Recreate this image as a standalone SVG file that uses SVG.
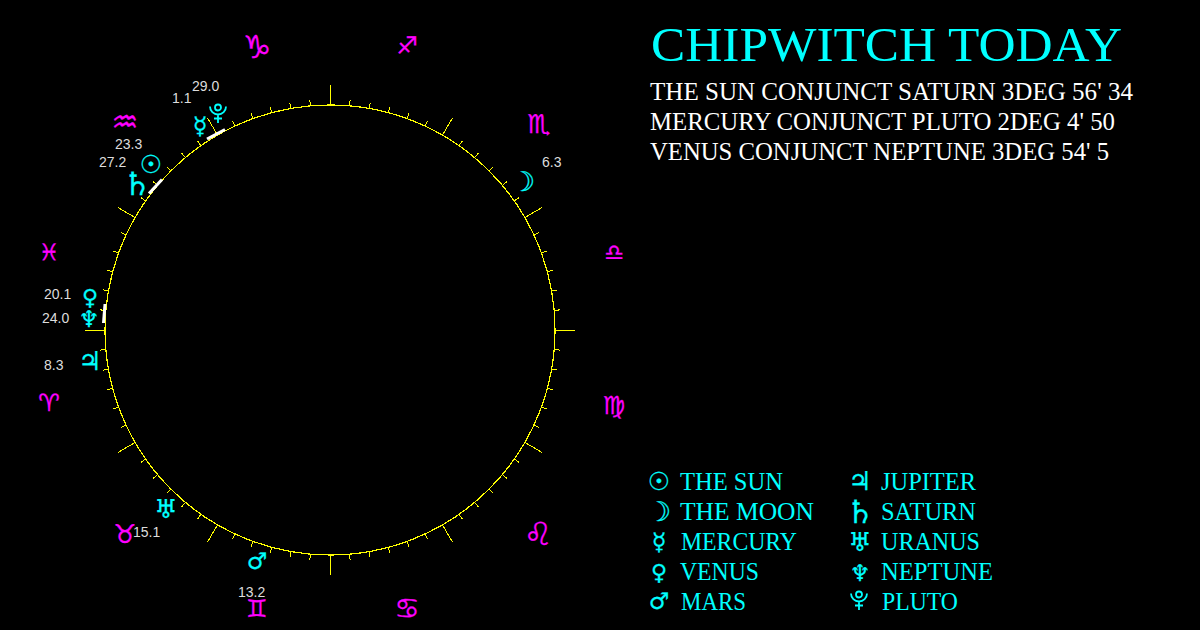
<svg xmlns="http://www.w3.org/2000/svg" xmlns:xlink="http://www.w3.org/1999/xlink" width="1200" height="630" viewBox="0 0 1200 630">
<style>
.bg{fill:#000}
.ring{fill:none;stroke:#ff0;stroke-width:1.2;shape-rendering:crispEdges}
.tick{fill:none;stroke:#ff0;stroke-width:1;shape-rendering:crispEdges}
.conj{stroke:#fff;stroke-width:3;fill:none}
.z{font-family:"DejaVu Sans",sans-serif;fill:#f0f;stroke:#f0f;stroke-width:.25;text-anchor:middle}
.p{font-family:"DejaVu Sans",sans-serif;fill:#0ff;stroke:#0ff;stroke-width:.25;text-anchor:middle}
.n{font-family:"Liberation Sans",Arial,sans-serif;font-size:14px;fill:#ddd}
.title{font-family:"Liberation Serif",serif;font-size:48px;fill:#0ff}
.line{font-family:"Liberation Serif",serif;font-size:25px;fill:#fff}
.leg{font-family:"Liberation Serif",serif;font-size:25px;fill:#0ff}
.pl{fill:none;stroke:#0ff;stroke-width:1.8}
.sun{font-size:25px}.moon{font-size:27px}.mer{font-size:24px}.ven{font-size:22px}.mar{font-size:23px}.jup{font-size:26px}.sat{font-size:32px}.ura{font-size:26px}.nep{font-size:23px}
</style>
<defs>
<line id="t" class="tick" x1="330" y1="105" x2="330" y2="99"/>
<line id="m" class="tick" x1="330" y1="105" x2="330" y2="85"/>
<g id="pluto" class="pl"><path d="M-8-7.500A8 8 0 0 0 8-7.500M0 .5V9M-4 4.500H4"/><circle cx="0" cy="-6.500" r="3"/></g>
</defs>
<rect class="bg" width="1200" height="630"/>
<g id="connectors">
<circle class="ring" cx="330" cy="330" r="225"/>
<g id="major">
<use href="#m"/><use href="#m" transform="rotate(30 330 330)"/><use href="#m" transform="rotate(60 330 330)"/><use href="#m" transform="rotate(90 330 330)"/><use href="#m" transform="rotate(120 330 330)"/><use href="#m" transform="rotate(150 330 330)"/><use href="#m" transform="rotate(180 330 330)"/><use href="#m" transform="rotate(210 330 330)"/><use href="#m" transform="rotate(240 330 330)"/><use href="#m" transform="rotate(270 330 330)"/><use href="#m" transform="rotate(300 330 330)"/><use href="#m" transform="rotate(330 330 330)"/>
</g>
<g id="minor">
<use href="#t" transform="rotate(5 330 330)"/><use href="#t" transform="rotate(10 330 330)"/><use href="#t" transform="rotate(15 330 330)"/><use href="#t" transform="rotate(20 330 330)"/><use href="#t" transform="rotate(25 330 330)"/>
<use href="#t" transform="rotate(35 330 330)"/><use href="#t" transform="rotate(40 330 330)"/><use href="#t" transform="rotate(45 330 330)"/><use href="#t" transform="rotate(50 330 330)"/><use href="#t" transform="rotate(55 330 330)"/>
<use href="#t" transform="rotate(65 330 330)"/><use href="#t" transform="rotate(70 330 330)"/><use href="#t" transform="rotate(75 330 330)"/><use href="#t" transform="rotate(80 330 330)"/><use href="#t" transform="rotate(85 330 330)"/>
<use href="#t" transform="rotate(95 330 330)"/><use href="#t" transform="rotate(100 330 330)"/><use href="#t" transform="rotate(105 330 330)"/><use href="#t" transform="rotate(110 330 330)"/><use href="#t" transform="rotate(115 330 330)"/>
<use href="#t" transform="rotate(125 330 330)"/><use href="#t" transform="rotate(130 330 330)"/><use href="#t" transform="rotate(135 330 330)"/><use href="#t" transform="rotate(140 330 330)"/><use href="#t" transform="rotate(145 330 330)"/>
<use href="#t" transform="rotate(155 330 330)"/><use href="#t" transform="rotate(160 330 330)"/><use href="#t" transform="rotate(165 330 330)"/><use href="#t" transform="rotate(170 330 330)"/><use href="#t" transform="rotate(175 330 330)"/>
<use href="#t" transform="rotate(185 330 330)"/><use href="#t" transform="rotate(190 330 330)"/><use href="#t" transform="rotate(195 330 330)"/><use href="#t" transform="rotate(200 330 330)"/><use href="#t" transform="rotate(205 330 330)"/>
<use href="#t" transform="rotate(215 330 330)"/><use href="#t" transform="rotate(220 330 330)"/><use href="#t" transform="rotate(225 330 330)"/><use href="#t" transform="rotate(230 330 330)"/><use href="#t" transform="rotate(235 330 330)"/>
<use href="#t" transform="rotate(245 330 330)"/><use href="#t" transform="rotate(250 330 330)"/><use href="#t" transform="rotate(255 330 330)"/><use href="#t" transform="rotate(260 330 330)"/><use href="#t" transform="rotate(265 330 330)"/>
<use href="#t" transform="rotate(275 330 330)"/><use href="#t" transform="rotate(280 330 330)"/><use href="#t" transform="rotate(285 330 330)"/><use href="#t" transform="rotate(290 330 330)"/><use href="#t" transform="rotate(295 330 330)"/>
<use href="#t" transform="rotate(305 330 330)"/><use href="#t" transform="rotate(310 330 330)"/><use href="#t" transform="rotate(315 330 330)"/><use href="#t" transform="rotate(320 330 330)"/><use href="#t" transform="rotate(325 330 330)"/>
<use href="#t" transform="rotate(335 330 330)"/><use href="#t" transform="rotate(340 330 330)"/><use href="#t" transform="rotate(345 330 330)"/><use href="#t" transform="rotate(350 330 330)"/><use href="#t" transform="rotate(355 330 330)"/>
</g>
<g id="conjunctions">
<line class="conj" x1="149" y1="193.500" x2="162" y2="179.500"/>
<line class="conj" x1="207" y1="139" x2="225" y2="129.500"/>
<line class="conj" x1="105" y1="304" x2="103.500" y2="323"/>
</g>
</g>
<g id="zodiac">
<text id="capricorn" class="z" style="font-size:32px" x="257" y="58">♑</text>
<text id="sagittarius" class="z" style="font-size:24px" x="407" y="54">♐</text>
<text id="scorpio" class="z" style="font-size:26px" x="539" y="133">♏</text>
<text id="libra" class="z" style="font-size:22px" x="614" y="260">♎</text>
<text id="virgo" class="z" style="font-size:25px" x="614" y="414">♍</text>
<text id="leo" class="z" style="font-size:32px" x="538" y="545">♌</text>
<text id="cancer" class="z" style="font-size:28px" x="407" y="618">♋</text>
<text id="gemini" class="z" style="font-size:24px" x="257" y="617">♊</text>
<text id="taurus" class="z" style="font-size:26px" x="125" y="543">♉</text>
<text id="aries" class="z" style="font-size:24px" x="49" y="411">♈</text>
<text id="pisces" class="z" style="font-size:23px" x="49" y="260">♓</text>
<text id="aquarius" class="z" style="font-size:30px" x="125" y="132">♒</text>
</g>
<g id="planets">
<g id="sun-chart"><text class="p sun" x="151" y="173">☉</text><text class="n" x="115" y="149">23.3</text></g>
<g id="moon-chart"><text class="p moon" x="523" y="191">☽</text><text class="n" x="542" y="167">6.3</text></g>
<g id="mercury-chart"><text class="p mer" x="200" y="134">☿</text><text class="n" x="172" y="103">1.1</text></g>
<g id="venus-chart"><text class="p ven" x="90" y="305">♀</text><text class="n" x="44" y="299">20.1</text></g>
<g id="mars-chart"><text class="p mar" x="257" y="569">♂</text><text class="n" x="238" y="597">13.2</text></g>
<g id="jupiter-chart"><text class="p jup" x="90" y="370">♃</text><text class="n" x="44" y="370">8.3</text></g>
<g id="saturn-chart"><text class="p sat" x="137" y="195">♄</text><text class="n" x="99" y="167">27.2</text></g>
<g id="uranus-chart"><text class="p ura" x="166" y="518">♅</text><text class="n" x="133" y="537">15.1</text></g>
<g id="neptune-chart"><text class="p nep" x="89" y="327">♆</text><text class="n" x="42" y="323">24.0</text></g>
<g id="pluto-chart"><use href="#pluto" x="218" y="114"/><text class="n" x="192" y="91">29.0</text></g>
</g>
<g id="heading">
<text class="title" x="651" y="61" textLength="471" lengthAdjust="spacingAndGlyphs">CHIPWITCH TODAY</text>
<text class="line" x="650" y="100" textLength="483" lengthAdjust="spacingAndGlyphs">THE SUN CONJUNCT SATURN 3DEG 56' 34</text>
<text class="line" x="650" y="130" textLength="465" lengthAdjust="spacingAndGlyphs">MERCURY CONJUNCT PLUTO 2DEG 4' 50</text>
<text class="line" x="650" y="160" textLength="459" lengthAdjust="spacingAndGlyphs">VENUS CONJUNCT NEPTUNE 3DEG 54' 5</text>
</g>
<g id="legend">
<g id="leg-sun"><text class="p sun" x="659" y="490">☉</text><text class="leg" x="680" y="490" textLength="103" lengthAdjust="spacingAndGlyphs">THE SUN</text></g>
<g id="leg-moon"><text class="p moon" x="659" y="521">☽</text><text class="leg" x="680" y="520" textLength="134" lengthAdjust="spacingAndGlyphs">THE MOON</text></g>
<g id="leg-mercury"><text class="p mer" x="659" y="550">☿</text><text class="leg" x="681" y="550" textLength="116" lengthAdjust="spacingAndGlyphs">MERCURY</text></g>
<g id="leg-venus"><text class="p ven" x="659" y="580">♀</text><text class="leg" x="680" y="580" textLength="79" lengthAdjust="spacingAndGlyphs">VENUS</text></g>
<g id="leg-mars"><text class="p mar" x="659" y="609">♂</text><text class="leg" x="681" y="610" textLength="65" lengthAdjust="spacingAndGlyphs">MARS</text></g>
<g id="leg-jupiter"><text class="p jup" x="860" y="490">♃</text><text class="leg" x="881" y="490" textLength="95" lengthAdjust="spacingAndGlyphs">JUPITER</text></g>
<g id="leg-saturn"><text class="p sat" x="860" y="523">♄</text><text class="leg" x="881" y="520" textLength="95" lengthAdjust="spacingAndGlyphs">SATURN</text></g>
<g id="leg-uranus"><text class="p ura" x="860" y="551">♅</text><text class="leg" x="881" y="550" textLength="99" lengthAdjust="spacingAndGlyphs">URANUS</text></g>
<g id="leg-neptune"><text class="p nep" x="860" y="581">♆</text><text class="leg" x="881" y="580" textLength="112" lengthAdjust="spacingAndGlyphs">NEPTUNE</text></g>
<g id="leg-pluto"><use href="#pluto" x="859" y="601"/><text class="leg" x="882" y="610" textLength="76" lengthAdjust="spacingAndGlyphs">PLUTO</text></g>
</g>
</svg>
